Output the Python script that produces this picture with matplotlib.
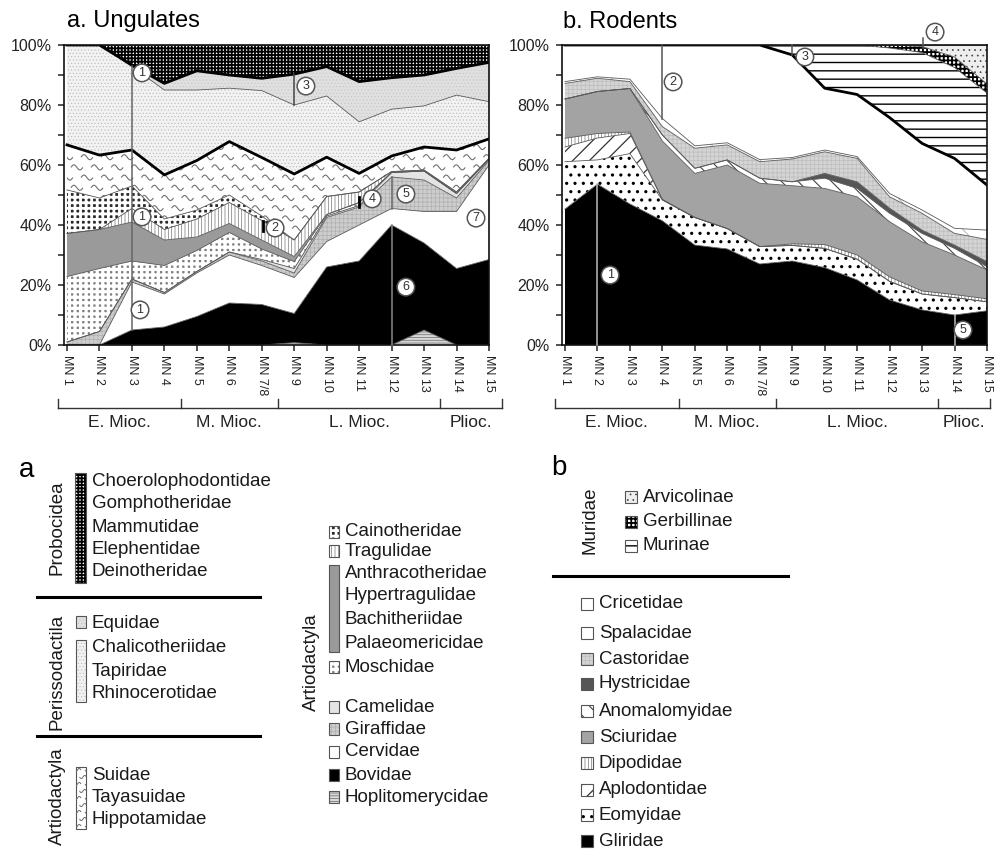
import numpy as np
import matplotlib
matplotlib.use('Agg')
import matplotlib.pyplot as plt
from matplotlib import font_manager
from matplotlib.patches import Rectangle
from matplotlib.collections import LineCollection

available = {f.name for f in font_manager.fontManager.ttflist}
if 'Liberation Sans Narrow' in available:
    NARROW, K = 'Liberation Sans Narrow', 1.15
else:
    NARROW, K = 'Liberation Sans', 1.0
plt.rcParams['font.family'] = [NARROW, 'DejaVu Sans']
REGULAR = ['Liberation Sans', 'DejaVu Sans']

# time bins
stages = ['MN 1', 'MN 2', 'MN 3', 'MN 4', 'MN 5', 'MN 6', 'MN 7/8',
          'MN 9', 'MN 10', 'MN 11', 'MN 12', 'MN 13', 'MN 14', 'MN 15']
epochs = ['E. Mioc.', 'M. Mioc.', 'L. Mioc.', 'Plioc.']
epoch_breaks = [3.5, 6.5, 11.5]

# ungulates, % per family group, bottom to top
hoplitomerycidae = [0, 0, 0, 0, 0, 0, 0, 0.8, 0, 0, 0, 5, 0, 0]
bovidae = [0, 0, 5, 6, 9.5, 14, 13.5, 9.7, 26, 28, 40, 29, 25.5, 28.5]
cervidae = [0, 0, 16, 11, 14.5, 16, 13, 12, 8.5, 12, 5.5, 10.5, 19, 31.5]
giraffidae = [1, 4.5, 1, 0.5, 0.5, 1, 1.5, 1.5, 8, 6, 10.5, 10.5, 4.5, 1.5]
camelidae = [0, 0, 0, 0, 0, 0, 0.5, 1.5, 0.5, 0.5, 1.5, 3, 1.5, 0.5]
moschidae = [21.8, 21, 6, 9, 7, 6.5, 3.5, 2.3, 0.5, 1, 0, 0, 0, 0]
anthracotheres = [14.4, 13, 13, 8.5, 4.5, 3, 3, 1.7, 0, 0, 0, 0, 0, 0]
tragulidae = [0, 0, 4.5, 3.5, 6, 7, 6.5, 5.5, 6, 3.5, 0.3, 0.3, 0.5, 0.2]
cainotheridae = [14.5, 10.5, 7.5, 3.5, 3, 2.5, 1.5, 0, 0, 0, 0, 0, 0, 0]
suoids = [15, 14.3, 12, 14.7, 16.5, 17.8, 19.5, 22, 13.1, 6.2, 5.2, 7.7, 14, 6.5]
rhinos = [33.3, 36.7, 27.8, 28.3, 23.5, 17.8, 22.3, 23, 20.4, 17.2, 15.6, 13.7, 18.3, 12.4]
equidae = [0, 0, 0.5, 2.2, 6.4, 4.4, 4.1, 10.3, 9.8, 13.4, 10.5, 10.3, 8.9, 13.1]
proboscidea = [0, 0, 6.7, 12.8, 8.6, 10, 11.1, 9.7, 7.2, 12.2, 10.9, 10, 7.8, 5.8]

# rodents, % per family, bottom to top
gliridae = [45.3, 53.6, 47, 41.4, 33.3, 32, 27, 28, 25.8, 21.7, 15, 11.7, 10, 11.4]
eomyidae = [15.8, 8.1, 16.8, 6.9, 9.2, 6.8, 5.8, 5.2, 6.4, 6.9, 6.2, 5.3, 5.8, 3]
aplodontidae = [4.9, 7.3, 6.7, 0.2, 0, 0, 0, 0, 0, 0, 0, 0, 0, 0]
dipodidae = [2.9, 1.5, 0.5, 0, 0, 0, 0, 0.5, 1.3, 1.4, 1.5, 1, 1, 1]
sciuridae = [13.1, 14, 14.5, 19.5, 14.7, 21.2, 21.1, 19.4, 18.7, 19.4, 18.4, 16.4, 13.2, 9.6]
anomalomyidae = [0, 0, 0, 2, 1.7, 1.7, 1.7, 1.3, 3.4, 2.8, 2.8, 2.8, 2.2, 1.1]
hystricidae = [0, 0, 0, 0, 0, 0, 0, 0, 1.6, 2.2, 1.7, 1.1, 1.1, 1.7]
castoridae = [5.2, 4.4, 2.3, 2.8, 6.7, 5, 5.5, 7.6, 7.2, 7.8, 3.8, 5.6, 3.9, 7.4]
spalacidae = [0.6, 0.5, 0.8, 2.7, 0.8, 0.7, 0.7, 0.5, 0.6, 0.6, 1.1, 1.1, 1.7, 3.1]
cricetidae = [12.2, 10.6, 11.4, 24.5, 33.6, 32.6, 38.2, 34.2, 20.6, 20.7, 25.3, 22.2, 23.3, 15]
murinae = [0, 0, 0, 0, 0, 0, 0, 3.3, 14.4, 16.5, 23.2, 30.3, 30.3, 30.7]
gerbillinae = [0, 0, 0, 0, 0, 0, 0, 0, 0, 0, 1, 2, 3.5, 3]
arvicolinae = [0, 0, 0, 0, 0, 0, 0, 0, 0, 0, 0, 0.5, 4, 13]

# fill styles
S = {
    'hopl': dict(fc='#d8d8d8', hc='#666666', h='------', hlw=0.5),
    'bov': dict(fc='black'),
    'cerv': dict(fc='white'),
    'gir': dict(fc='#cdcdcd', hc='#b0b0b0', h='++++', hlw=0.5),
    'cam': dict(fc='#e4e4e4'),
    'mos': dict(fc='#808080', hc='white', h='+++', hlw=2.3),
    'anth': dict(fc='#9a9a9a'),
    'trag': dict(fc='white', hc='#777777', h='|||||', hlw=0.5),
    'cain': dict(fc='#2a2a2a', hc='white', h='+++', hlw=2.0),
    'suid': dict(fc='white', wave=True),
    'rhino': dict(fc='#f2f2f2', hc='#b8b8b8', h='.....', hlw=0.4),
    'equ': dict(fc='#e0e0e0', hc='#c4c4c4', h='.....', hlw=0.4),
    'prob': dict(fc='white', hc='black', h='+++++', hlw=1.3),
    'glir': dict(fc='black'),
    'eomy': dict(fc='white', hc='black', h='..', hlw=1.1),
    'aplo': dict(fc='white', hc='#333333', h='//', hlw=0.9),
    'dipo': dict(fc='white', hc='#777777', h='|||||', hlw=0.5),
    'sciu': dict(fc='#a3a3a3'),
    'anom': dict(fc='white', hc='#444444', h='\\\\', hlw=0.8),
    'hyst': dict(fc='#555555'),
    'cast': dict(fc='#d4d4d4', hc='#bdbdbd', h='++++', hlw=0.5),
    'spal': dict(fc='white', hc='#aaaaaa', h='\\', hlw=0.6),
    'cric': dict(fc='white'),
    'muri': dict(fc='white', hc='black', h='--', hlw=1.0),
    'gerb': dict(fc='white', hc='black', h='++++', hlw=1.3),
    'arvi': dict(fc='#eeeeee', hc='#444444', h='...', hlw=0.5),
}


def wave_segments(x0, x1, y0, y1, period, amp, dx, dy):
    t = np.linspace(0, 1, 15)
    segs = []
    for i, yr in enumerate(np.arange(y0, y1, dy)):
        off = (i % 2) * dx / 2
        for xs in np.arange(x0 - dx + off, x1, dx):
            segs.append(np.column_stack([xs + period * t, yr + amp * np.sin(2 * np.pi * t)]))
    return segs


def set_hlw(artist, lw):
    if hasattr(artist, 'set_hatch_linewidth'):
        artist.set_hatch_linewidth(lw)


def draw_stack(ax, layers, bold):
    x = np.arange(len(stages))
    base = np.zeros(len(stages))
    for key, vals in layers:
        st = S[key]
        top = base + np.asarray(vals, float)
        with plt.rc_context({'hatch.linewidth': st.get('hlw', 0.6)}):
            poly = ax.fill_between(x, base, top, facecolor=st['fc'],
                                   edgecolor=st.get('hc', 'none'), hatch=st.get('h'),
                                   linewidth=0, zorder=1)
        set_hlw(poly, st.get('hlw', 0.6))
        if st.get('wave'):
            lc = LineCollection(wave_segments(-0.5, 13.5, -2, 102, 0.37, 0.85, 0.62, 3.4),
                                colors='#6f6f6f', linewidths=0.8, zorder=2)
            ax.add_collection(lc)
            lc.set_clip_path(poly.get_paths()[0], ax.transData)
        if key in bold:
            ax.plot(x, top, color='black', lw=2.0, zorder=4)
        else:
            ax.plot(x, top, color='#5a5a5a', lw=0.6, zorder=3)
        base = top


def badge(ax, x, y, n):
    ax.text(x, y, str(n), ha='center', va='center', fontsize=9 * K, color='#333333',
            bbox=dict(boxstyle='circle,pad=0.22', fc='white', ec='#555555', lw=1.1),
            zorder=8, clip_on=False)


def mark(ax, x, y0, y1, color='#666666', lw=1.1):
    ax.plot([x, x], [y0, y1], color=color, lw=lw, zorder=7, clip_on=False)


def style_axes(ax, bracket):
    ax.set_xlim(-0.092, 13)
    ax.set_ylim(0, 100)
    ax.set_yticks(np.arange(0, 101, 20))
    ax.set_yticklabels([f'{v}%' for v in range(0, 101, 20)], fontsize=11.5 * K)
    ax.set_yticks(np.arange(10, 100, 20), minor=True)
    ax.set_xticks(np.arange(len(stages)))
    ax.set_xticklabels(stages, rotation=270, fontsize=9 * K, va='top', ha='center')
    ax.tick_params(axis='both', which='both', direction='out', length=4, width=1.1,
                   color='#222222', labelcolor='#222222')
    ax.tick_params(axis='y', pad=5)
    ax.tick_params(axis='x', pad=3)
    for sp in ax.spines.values():
        sp.set_linewidth(1.2)
        sp.set_color('#111111')
        sp.set_zorder(6)
    tr = ax.get_xaxis_transform()
    start, end = bracket
    bounds = [start] + epoch_breaks + [end]
    ax.plot([start, end], [-0.21, -0.21], transform=tr, clip_on=False, color='#333333', lw=1)
    for xb in bounds:
        ax.plot([xb, xb], [-0.21, -0.18], transform=tr, clip_on=False, color='#333333', lw=1)
    for lab, a, b in zip(epochs, bounds[:-1], bounds[1:]):
        ax.text((a + b) / 2, -0.257, lab, transform=tr, ha='center', va='center',
                fontsize=12.5 * K, color='#222222')


fig = plt.figure(figsize=(9.98, 8.51), dpi=100)
W, H = 998, 851
axa = fig.add_axes([64 / W, 1 - 345 / H, 425 / W, 300 / H])
axb = fig.add_axes([562 / W, 1 - 345 / H, 425 / W, 300 / H])

draw_stack(axa, [('hopl', hoplitomerycidae), ('bov', bovidae), ('cerv', cervidae),
                 ('gir', giraffidae), ('cam', camelidae), ('mos', moschidae),
                 ('anth', anthracotheres), ('trag', tragulidae), ('cain', cainotheridae),
                 ('suid', suoids), ('rhino', rhinos), ('equ', equidae), ('prob', proboscidea)],
           bold={'suid', 'equ'})
draw_stack(axb, [('glir', gliridae), ('eomy', eomyidae), ('aplo', aplodontidae),
                 ('dipo', dipodidae), ('sciu', sciuridae), ('anom', anomalomyidae),
                 ('hyst', hystricidae), ('cast', castoridae), ('spal', spalacidae),
                 ('cric', cricetidae), ('muri', murinae), ('gerb', gerbillinae),
                 ('arvi', arvicolinae)],
           bold={'cric'})

style_axes(axa, (-0.28, 13.4))
style_axes(axb, (-0.31, 13.1))

# annotations, ungulates
mark(axa, 2, 5, 93)
mark(axa, 7, 80, 90.3, color='#444444')
mark(axa, 10, 45.5, 56)
mark(axa, 10, 0, 40, color='#8a8a8a')
mark(axa, 6.04, 38, 41.5, color='black', lw=2)
mark(axa, 9.0, 46, 49.5, color='black', lw=2)
for x, y, n in [(2.31, 90.7, 1), (2.31, 42.7, 1), (2.25, 11.7, 1), (6.41, 39, 2),
                (7.36, 86.3, 3), (9.4, 48.7, 4), (10.44, 50.3, 5), (10.44, 19.3, 6),
                (12.6, 42.3, 7)]:
    badge(axa, x, y, n)

# annotations, rodents
mark(axb, 1, 0, 53.6, color='#bbbbbb')
mark(axb, 3, 75.5, 100, color='#555555')
mark(axb, 7, 96.7, 100, color='#555555')
mark(axb, 11.03, 99, 102.5, color='#555555')
mark(axb, 12, 0, 10, color='#bbbbbb')
for x, y, n in [(1.39, 23.3, 1), (3.33, 87.7, 2), (7.39, 96, 3), (11.4, 104.3, 4),
                (12.26, 5, 5)]:
    badge(axb, x, y, n)

fig.text(67 / W, 1 - 21 / H, 'a. Ungulates', fontsize=17, family=REGULAR, va='center')
fig.text(563 / W, 1 - 22 / H, 'b. Rodents', fontsize=17, family=REGULAR, va='center')

# ---- legends (pixel coordinates) ----
lax = fig.add_axes([0, 0, 1, 1])
lax.set_xlim(0, W)
lax.set_ylim(H, 0)
lax.axis('off')
FS = 13.5 * K


def swatch(x, y, w, h, key):
    st = S[key]
    with plt.rc_context({'hatch.linewidth': st.get('hlw', 0.6)}):
        r = Rectangle((x, y), w, h, facecolor=st['fc'], edgecolor=st.get('hc', 'none'),
                      hatch=st.get('h'), lw=0)
    set_hlw(r, st.get('hlw', 0.6))
    lax.add_patch(r)
    if st.get('wave'):
        lc = LineCollection(wave_segments(x - 2, x + w + 2, y + 3, y + h, 7, 1.6, 11, 7),
                            colors='#6f6f6f', linewidths=0.7)
        lax.add_collection(lc)
        lc.set_clip_path(r)
    lax.add_patch(Rectangle((x, y), w, h, fill=False, edgecolor='#555555', lw=0.8))


def label(x, y, s, rot=0, ha='left'):
    lax.text(x, y, s, fontsize=FS, va='center', ha=ha, rotation=rot,
             rotation_mode='anchor' if rot == 0 else 'default', color='#1a1a1a')


lax.text(27, 470, 'a', fontsize=20, family=REGULAR, ha='center', va='center')
lax.text(559, 468, 'b', fontsize=20, family=REGULAR, ha='center', va='center')

# ungulates legend, left column
label(57, 528, 'Probocidea', rot=90, ha='center')
swatch(75, 473, 11, 110, 'prob')
for y, s in zip([481, 504, 527, 549, 572],
                ['Choerolophodontidae', 'Gomphotheridae', 'Mammutidae', 'Elephentidae',
                 'Deinotheridae']):
    label(92, y, s)
lax.plot([37, 260], [597, 597], color='black', lw=2.2)
label(57, 672, 'Perissodactila', rot=90, ha='center')
swatch(76, 616, 10, 12, 'equ')
label(92, 623, 'Equidae')
swatch(76, 640, 10, 62, 'rhino')
for y, s in zip([648, 672, 694], ['Chalicotheriidae', 'Tapiridae', 'Rhinocerotidae']):
    label(92, y, s)
lax.plot([37, 260], [736, 736], color='black', lw=2.2)
label(57, 796, 'Artiodactyla', rot=90, ha='center')
swatch(76, 767, 10, 62, 'suid')
for y, s in zip([775, 797, 819], ['Suidae', 'Tayasuidae', 'Hippotamidae']):
    label(92, y, s)

# ungulates legend, right column
label(311, 662, 'Artiodactyla', rot=90, ha='center')
for key, y in [('cain', 526), ('trag', 545)]:
    swatch(329, y, 10, 12, key)
swatch(329, 565, 10, 87, 'anth')
for key, y in [('mos', 661), ('cam', 701), ('gir', 723), ('cerv', 746), ('bov', 769),
               ('hopl', 791)]:
    swatch(329, y, 10, 12, key)
for y, s in zip([532, 551, 573, 596, 619, 643, 667, 707, 729, 752, 775, 797],
                ['Cainotheridae', 'Tragulidae', 'Anthracotheridae', 'Hypertragulidae',
                 'Bachitheriidae', 'Palaeomericidae', 'Moschidae', 'Camelidae',
                 'Giraffidae', 'Cervidae', 'Bovidae', 'Hoplitomerycidae']):
    label(345, y, s)

# rodents legend
label(590, 520, 'Muridae', rot=90, ha='center')
for key, y, s in [('arvi', 497, 'Arvicolinae'), ('gerb', 522, 'Gerbillinae'),
                  ('muri', 546, 'Murinae')]:
    swatch(625, y - 6, 12, 12, key)
    label(643, y, s)
lax.plot([553, 788], [576, 576], color='black', lw=2.2)
for key, y, s in [('cric', 604, 'Cricetidae'), ('spal', 633, 'Spalacidae'),
                  ('cast', 659, 'Castoridae'), ('hyst', 684, 'Hystricidae'),
                  ('anom', 711, 'Anomalomyidae'), ('sciu', 737, 'Sciuridae'),
                  ('dipo', 763, 'Dipodidae'), ('aplo', 790, 'Aplodontidae'),
                  ('eomy', 815, 'Eomyidae'), ('glir', 841, 'Gliridae')]:
    swatch(581, y - 6, 12, 12, key)
    label(599, y, s)

fig.savefig('out.png', dpi=100)
